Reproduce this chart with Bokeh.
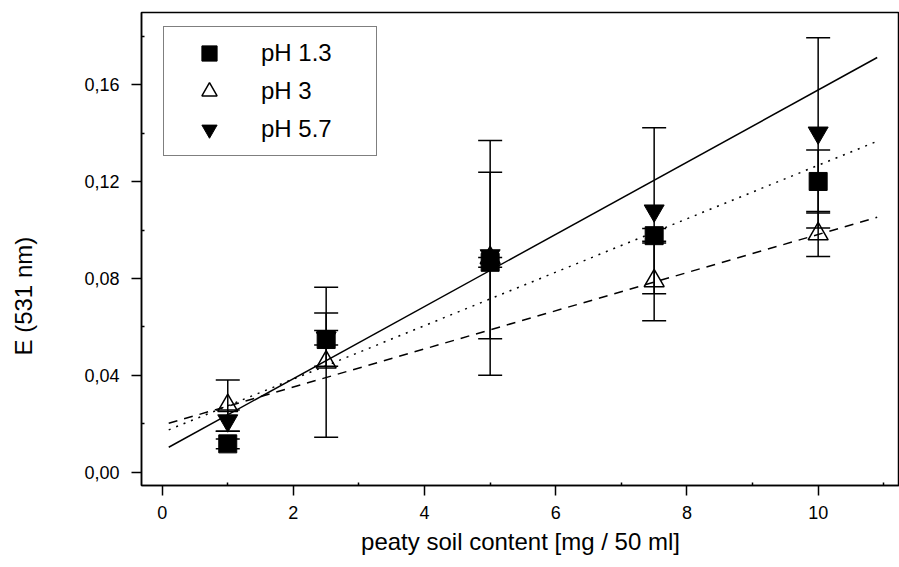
import numpy as np
from bokeh.plotting import figure
from bokeh.models import (ColumnDataSource, Whisker, TeeHead, FixedTicker,
                          CustomJSTickFormatter, Legend, LegendItem, Range1d, Title)
from bokeh.embed import file_html
from bokeh.resources import INLINE

# ---- data ----
x_content = [1, 2.5, 5, 7.5, 10]
e_ph13 = [0.0117, 0.0548, 0.0867, 0.0977, 0.1201]
err_ph13 = [0.002, 0.011, 0.002, 0.003, 0.013]
e_ph3 = [0.0275, 0.0454, 0.0885, 0.0790, 0.0984]
err_ph3 = [0.0106, 0.031, 0.0485, 0.0164, 0.0093]
e_ph57 = [0.0213, 0.0555, 0.0895, 0.1080, 0.1402]
err_ph57 = [0.0044, 0.003, 0.0344, 0.0343, 0.0393]

fit_x = [0.1, 10.9]
fit_ph13 = [0.0175, 0.1367]
fit_ph3 = [0.0202, 0.1053]
fit_ph57 = [0.0103, 0.1713]

x_ticks = [0, 2, 4, 6, 8, 10]
x_minor = [1, 3, 5, 7, 9, 11]
y_ticks = [0.0, 0.04, 0.08, 0.12, 0.16]
y_minor = [0.02, 0.06, 0.10, 0.14, 0.18]

x_title = "peaty soil content [mg / 50 ml]"
y_title = "E (531 nm)"

FONT = "Liberation Sans"

p = figure(width=899, height=567, x_range=Range1d(-0.315, 11.24),
           y_range=Range1d(-0.0055, 0.1899), output_backend="svg",
           toolbar_location=None, min_border_left=141, min_border_right=0,
           min_border_top=12, min_border_bottom=82)
p.grid.visible = False
p.outline_line_color = "black"
p.outline_line_width = 1.5
p.background_fill_color = "white"
p.border_fill_color = "white"


def make_src(y, err):
    y = np.array(y)
    e = np.array(err)
    return ColumnDataSource(dict(x=x_content, y=y, upper=y + e, lower=y - e))


s13 = make_src(e_ph13, err_ph13)
s3 = make_src(e_ph3, err_ph3)
s57 = make_src(e_ph57, err_ph57)

r3 = p.scatter("x", "y", source=s3, marker="triangle", size=20,
               fill_color="white", line_color="black", line_width=1.5)
r57 = p.scatter("x", "y", source=s57, marker="inverted_triangle", size=20,
                fill_color="black", line_color="black")
r13 = p.scatter("x", "y", source=s13, marker="square", size=18,
                fill_color="black", line_color="black")

for s in (s3, s57, s13):
    w = Whisker(source=s, base="x", upper="upper", lower="lower",
                dimension="height", line_width=1.5, line_color="black",
                upper_head=TeeHead(size=24, line_width=1.5, line_color="black"),
                lower_head=TeeHead(size=24, line_width=1.5, line_color="black"),
                level="overlay")
    p.add_layout(w)

p.line(fit_x, fit_ph57, line_color="black", line_width=1.5)
p.line(fit_x, fit_ph13, line_color="black", line_width=1.5, line_dash="2 6")
p.line(fit_x, fit_ph3, line_color="black", line_width=1.5, line_dash="9 7")

fmt = CustomJSTickFormatter(code="return tick.toFixed(2).replace('.', ',');")
p.xaxis.ticker = FixedTicker(ticks=x_ticks, minor_ticks=x_minor)
p.yaxis.ticker = FixedTicker(ticks=y_ticks, minor_ticks=y_minor)
p.yaxis.formatter = fmt

for ax in (p.xaxis[0], p.yaxis[0]):
    ax.axis_line_color = "black"
    ax.axis_line_width = 1.5
    ax.major_tick_line_color = "black"
    ax.major_tick_line_width = 1.5
    ax.minor_tick_line_color = "black"
    ax.minor_tick_line_width = 1.5
    ax.major_tick_out = 10
    ax.major_tick_in = 0
    ax.minor_tick_out = 0
    ax.minor_tick_in = 3
    ax.major_label_text_font = FONT
    ax.major_label_text_font_size = "18px"
    ax.major_label_text_color = "black"
    ax.axis_label_text_font = FONT
    ax.axis_label_text_font_size = "24px"
    ax.axis_label_text_font_style = "normal"
    ax.axis_label_text_color = "black"
p.xaxis.major_label_standoff = 10
p.yaxis.major_label_standoff = 12

p.xaxis.axis_label = x_title
p.xaxis.axis_label_standoff = 6
# blank y-axis label only widens the axis panel so the title sits further left
p.yaxis.axis_label = " "
p.yaxis.axis_label_standoff = 4

# y title as a left-side title, shifted down like the reference
ytitle = Title(text=y_title, align="left", offset=130, vertical_align="top",
               standoff=18, text_font=FONT, text_font_size="24px",
               text_font_style="normal", text_color="black")
p.add_layout(ytitle, "left")

legend = Legend(items=[LegendItem(label="pH 1.3", renderers=[r13]),
                       LegendItem(label="pH 3", renderers=[r3]),
                       LegendItem(label="pH 5.7", renderers=[r57])],
                location=(22, 329), orientation="vertical",
                label_text_font=FONT, label_text_font_size="24px",
                label_text_color="black", glyph_width=76, glyph_height=38,
                label_height=38, label_width=108, label_standoff=14,
                padding=7, spacing=0, border_line_color="black",
                border_line_width=1.5, background_fill_alpha=1.0)
p.add_layout(legend)

open("out.html", "w").write(file_html(p, INLINE))
